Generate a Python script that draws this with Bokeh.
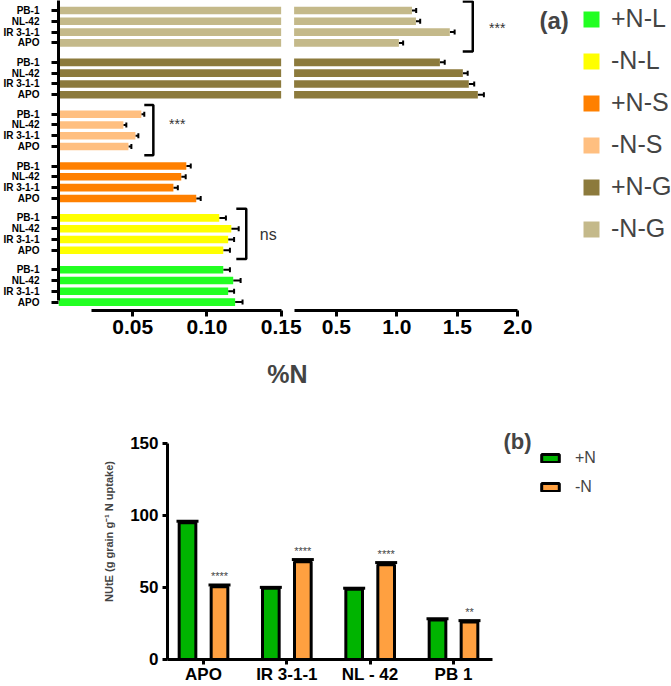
import math
from bokeh.plotting import figure
from bokeh.models import (Range1d, LinearAxis, FixedTicker, NumeralTickFormatter, Whisker,
                          TeeHead, ColumnDataSource, Label, Legend, LegendItem)
from bokeh.embed import file_html
from bokeh.resources import INLINE
from bokeh.core.properties import value

FONT = "Liberation Sans"

# ---------------- data, panel (a): %N ----------------
cultivars_a = ["PB-1", "NL-42", "IR 3-1-1", "APO"]          # top to bottom inside each group
groups_a = ["-N-G", "+N-G", "-N-S", "+N-S", "-N-L", "+N-L"]  # top to bottom
colors_a = ["#C4B98A", "#8C7A3C", "#FFBF80", "#FF8000", "#FFFF00", "#22FF22"]

minus_n_grain = [1.125, 1.158, 1.438, 1.017]
minus_n_grain_err = [0.035, 0.035, 0.040, 0.035]
plus_n_grain = [1.356, 1.546, 1.595, 1.670]
plus_n_grain_err = [0.040, 0.040, 0.045, 0.050]
minus_n_stem = [0.0558, 0.0437, 0.0518, 0.0471]
minus_n_stem_err = [0.0020, 0.0020, 0.0020, 0.0020]
plus_n_stem = [0.0861, 0.0827, 0.0774, 0.0928]
plus_n_stem_err = [0.0030, 0.0030, 0.0030, 0.0030]
minus_n_leaf = [0.1083, 0.1164, 0.1143, 0.1110]
minus_n_leaf_err = [0.0045, 0.0050, 0.0040, 0.0045]
plus_n_leaf = [0.1110, 0.1177, 0.1143, 0.1190]
plus_n_leaf_err = [0.0045, 0.0050, 0.0040, 0.0050]

axis_break = 0.15
ticks_low = [0.05, 0.10, 0.15]
ticks_high = [0.5, 1.0, 1.5, 2.0]
legend_order_a = ["+N-L", "-N-L", "+N-S", "-N-S", "+N-G", "-N-G"]

bracket_groups = ["-N-G", "-N-S", "-N-L"]
bracket_labels = ["***", "***", "ns"]

# ---------------- data, panel (b): NUtE ----------------
cultivars_b = ["APO", "IR 3-1-1", "NL - 42", "PB 1"]
nute_plus = [95.0, 49.5, 48.8, 27.5]
nute_plus_err = [1.0, 0.6, 0.7, 0.8]
nute_minus = [50.5, 67.8, 65.8, 26.0]
nute_minus_err = [1.3, 1.6, 1.5, 1.0]
signif_b = ["****", "****", "****", "**"]
ticks_b = [0, 50, 100, 150]

# ---------------- layout constants ----------------
ROW = 5
GROUP = 24
BAR_H = 3.5
Y_BOTTOM, Y_TOP = 189.8, -4.63
Y_AXIS_AT = 138.9
BR_TOP, BR_BOT = 4.2, 4.0


def ypos(g, i):
    return g * GROUP + i * ROW


values_a = {
    "-N-G": (minus_n_grain, minus_n_grain_err),
    "+N-G": (plus_n_grain, plus_n_grain_err),
    "-N-S": (minus_n_stem, minus_n_stem_err),
    "+N-S": (plus_n_stem, plus_n_stem_err),
    "-N-L": (minus_n_leaf, minus_n_leaf_err),
    "+N-L": (plus_n_leaf, plus_n_leaf_err),
}

# ================= panel (a) =================
pa = figure(width=671, height=420, output_backend="svg", toolbar_location=None,
            x_range=Range1d(0, 0.4130), y_range=Range1d(Y_BOTTOM, Y_TOP),
            x_axis_location=None, y_axis_location=None,
            min_border_left=57, min_border_right=0, min_border_top=0, min_border_bottom=0)
pa.extra_x_ranges = {"hi": Range1d(-1.799, 3.272)}
pa.outline_line_color = None
pa.grid.visible = False

positions = []
overrides = {}
renderers_a = {}
for g, grp in enumerate(groups_a):
    vals, errs = values_a[grp]
    ys = [ypos(g, i) for i in range(len(cultivars_a))]
    for y, name in zip(ys, cultivars_a):
        positions.append(y)
        overrides[y] = name
    src = ColumnDataSource(dict(y=ys, v=vals, hi=[a + b for a, b in zip(vals, errs)]))
    if max(vals) > axis_break:
        pa.hbar(y="y", left=0, right=axis_break, height=BAR_H, source=src,
                fill_color=colors_a[g], line_color=None)
        r = pa.hbar(y="y", left=axis_break, right="v", height=BAR_H, source=src,
                    fill_color=colors_a[g], line_color=None, x_range_name="hi")
        rng = "hi"
    else:
        r = pa.hbar(y="y", left=0, right="v", height=BAR_H, source=src,
                    fill_color=colors_a[g], line_color=None)
        rng = "default"
    renderers_a[grp] = r
    pa.add_layout(Whisker(source=src, base="y", lower="v", upper="hi", dimension="width",
                          line_color="black", line_width=2, x_range_name=rng,
                          upper_head=TeeHead(size=5, line_width=2, line_color="black"),
                          lower_head=None))

# brackets + significance
bracket_x = {"-N-G": 1.628, "-N-S": 0.0639, "-N-L": 0.1265}
bracket_arm = {"-N-G": 0.083, "-N-S": 0.0061, "-N-L": 0.0067}
label_x = {"-N-G": 1.83, "-N-S": 0.080, "-N-L": 0.1413}
label_dy = {"-N-G": 0.5, "-N-S": -3.0, "-N-L": 0.0}
for grp, txt in zip(bracket_groups, bracket_labels):
    g = groups_a.index(grp)
    top = ypos(g, 0) - BR_TOP
    bot = ypos(g, 3) + BR_BOT
    bx, arm = bracket_x[grp], bracket_arm[grp]
    rng = "hi" if grp.endswith("G") else "default"
    pa.line(x=[bx - arm, bx, bx, bx - arm], y=[top, top, bot, bot], line_color="black",
            line_width=2.5, x_range_name=rng)
    mid = (ypos(g, 0) + ypos(g, 3)) / 2 + label_dy[grp]
    pa.text(x=[label_x[grp]], y=[mid], text=[txt], text_align="center", text_baseline="middle",
            text_font=value(FONT), text_font_size="14px" if txt != "ns" else "16px",
            text_color="#333333", x_range_name=rng)

ya = LinearAxis(ticker=FixedTicker(ticks=positions), major_label_overrides=overrides,
                bounds=(Y_TOP, 134.3))
ya.axis_line_width = 3
ya.major_tick_line_width = 3
ya.major_tick_out = 7
ya.major_tick_in = 0
ya.major_label_standoff = 12
ya.major_label_text_font = FONT
ya.major_label_text_font_size = "10px"
ya.major_label_text_font_style = "bold"
ya.major_label_text_color = "black"
pa.add_layout(ya, "left")

for ax in (LinearAxis(ticker=FixedTicker(ticks=ticks_low), formatter=NumeralTickFormatter(format="0.00"),
                      bounds=(0.0225, axis_break), fixed_location=Y_AXIS_AT),
           LinearAxis(ticker=FixedTicker(ticks=ticks_high), formatter=NumeralTickFormatter(format="0.0"),
                      bounds=(axis_break, 2.0), x_range_name="hi", fixed_location=Y_AXIS_AT)):
    ax.axis_line_width = 3
    ax.major_tick_line_width = 3
    ax.major_tick_out = 6
    ax.major_tick_in = 0
    ax.major_label_standoff = 3
    ax.major_label_text_font = FONT
    ax.major_label_text_font_size = "21px"
    ax.major_label_text_font_style = "bold"
    ax.major_label_text_color = "black"
    pa.add_layout(ax, "below")

pa.add_layout(Label(x=229, y=47, x_units="screen", y_units="screen", text="%N",
                    text_font=FONT, text_font_size="25px", text_font_style="bold",
                    text_align="center", text_baseline="middle"))
pa.add_layout(Label(x=481, y=400, x_units="screen", y_units="screen", text="(a)",
                    text_font=FONT, text_font_size="24px", text_font_style="bold",
                    text_align="left", text_baseline="middle"))

leg_a = Legend(items=[LegendItem(label=n, renderers=[renderers_a[n]]) for n in legend_order_a],
               location=(523, 177), orientation="vertical", glyph_width=20, glyph_height=20,
               label_height=20, spacing=13, padding=0, margin=0, label_standoff=10,
               label_text_font=FONT, label_text_font_size="25px", border_line_color=None,
               background_fill_alpha=0)
pa.add_layout(leg_a)

# ================= panel (b) =================
pb = figure(width=671, height=266, output_backend="svg", toolbar_location=None,
            x_range=Range1d(-1.436, 6.616), y_range=Range1d(-18.75, 165.97),
            x_axis_location=None, y_axis_location=None,
            min_border_left=0, min_border_right=0, min_border_top=0, min_border_bottom=0)
pb.outline_line_color = None
pb.grid.visible = False

idx = list(range(1, len(cultivars_b) + 1))
OFF = 0.192
src_p = ColumnDataSource(dict(x=[i - OFF for i in idx], v=nute_plus,
                              hi=[a + b for a, b in zip(nute_plus, nute_plus_err)]))
src_m = ColumnDataSource(dict(x=[i + OFF for i in idx], v=nute_minus,
                              hi=[a + b for a, b in zip(nute_minus, nute_minus_err)],
                              star=signif_b))
rp = pb.vbar(x="x", top="v", bottom=0, width=0.2, source=src_p, fill_color="#00B400",
             line_color="black", line_width=3)
rm = pb.vbar(x="x", top="v", bottom=0, width=0.2, source=src_m, fill_color="#FFA040",
             line_color="black", line_width=3)
for s in (src_p, src_m):
    pb.add_layout(Whisker(source=s, base="x", lower="v", upper="hi", dimension="height",
                          line_color="black", line_width=3,
                          upper_head=TeeHead(size=22, line_width=3, line_color="black"),
                          lower_head=None))
pb.text(x="x", y="hi", text="star", source=src_m, text_align="center", text_baseline="bottom",
        y_offset=-3, text_font=value(FONT), text_font_size="11px", text_color="#444444")

yb = LinearAxis(ticker=FixedTicker(ticks=ticks_b), bounds=(0, 150), fixed_location=0.568)
xb = LinearAxis(ticker=FixedTicker(ticks=idx), bounds=(0.568, 4.47), fixed_location=0,
                major_label_overrides={i: n for i, n in zip(idx, cultivars_b)})
for ax in (yb, xb):
    ax.axis_line_width = 3
    ax.major_tick_line_width = 3
    ax.major_tick_out = 5
    ax.major_tick_in = 0
    ax.major_label_text_font = FONT
    ax.major_label_text_font_style = "bold"
    ax.major_label_text_color = "black"
yb.major_label_standoff = 4
yb.major_label_text_font_size = "17px"
xb.major_label_standoff = 1
xb.major_label_text_font_size = "17px"
pb.add_layout(yb, "left")
pb.add_layout(xb, "below")

pb.add_layout(Label(x=108, y=155, x_units="screen", y_units="screen",
                    text="NUtE (g grain g\u207b\u00b9 N uptake)", angle=math.pi / 2,
                    text_font=FONT, text_font_size="11px", text_font_style="bold",
                    text_align="center", text_baseline="middle"))
pb.add_layout(Label(x=503, y=245, x_units="screen", y_units="screen", text="(b)",
                    text_font=FONT, text_font_size="22px", text_font_style="bold",
                    text_align="left", text_baseline="middle"))
leg_b = Legend(items=[LegendItem(label="+N", renderers=[rp]), LegendItem(label="-N", renderers=[rm])],
               location=(539, 190), orientation="vertical", glyph_width=22, glyph_height=10,
               label_height=10, spacing=11, padding=0, margin=0, label_standoff=14,
               label_text_font=FONT, label_text_font_size="16px", border_line_color=None,
               background_fill_alpha=0)
pb.add_layout(leg_b)

open("out.html", "w").write(file_html([pa, pb], INLINE))
